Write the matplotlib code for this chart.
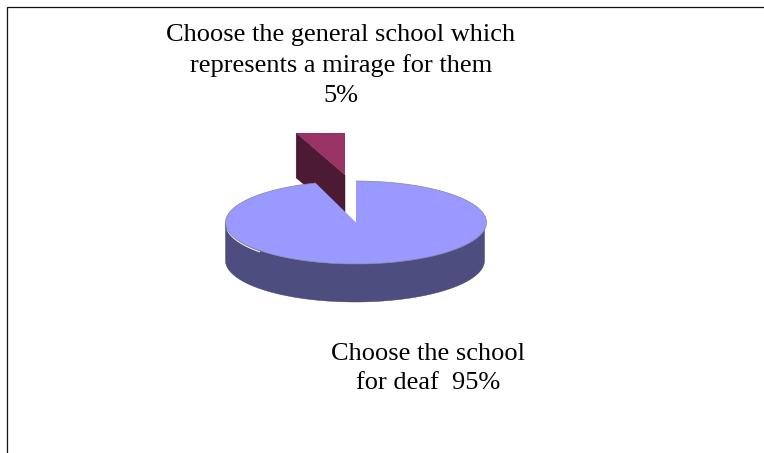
import numpy as np
import matplotlib
matplotlib.use("Agg")
import matplotlib.pyplot as plt
from matplotlib.patches import Polygon

# Data
categories = ["Choose the school\nfor deaf  95%",
              "Choose the general school which\nrepresents a mirage for them\n5%"]
values = [95, 5]

COL_TOP = "#9999FF"
COL_SIDE = "#4D4D80"
COL_SLICE = "#993366"
COL_WALL = "#4D1A33"

plt.rcParams["font.family"] = ["Liberation Serif", "DejaVu Serif"]
fig = plt.figure(figsize=(7.64, 4.53), dpi=100)
ax = fig.add_axes([0, 0, 1, 1])
ax.set_xlim(0, 764)
ax.set_ylim(453, 0)
ax.axis("off")

# Frame: only top and left edges are visible
ax.plot([7, 7, 764], [453, 6.7, 6.7], color="#111111", lw=0.9,
        solid_joinstyle="miter", zorder=1)

cx, cy, rx, ry, depth = 356, 222.5, 130.5, 41.5, 38
fractions = np.array(values, dtype=float) / sum(values)
sweep = fractions * 360.0


def ell(ang, x0, y0, a, b):
    t = np.radians(ang)
    return x0 + a * np.cos(t), y0 - b * np.sin(t)


# Main slice runs clockwise from 12 o'clock
a_start, a_end = 90, 90 - sweep[0]
# Side wall: visible front half of the rim
t_front = np.linspace(180, 360, 120)
xf, yf = ell(t_front, cx - 1, cy, rx - 1, ry)
side = np.vstack([np.column_stack([xf, yf]),
                  np.column_stack([xf[::-1], yf[::-1] + depth])])
ax.add_patch(Polygon(side, closed=True, fc=COL_SIDE, ec="#3d3d68", lw=0.3, zorder=2))

# Exploded small slice: centre displaced, wall first, then its top
ex, ey = 345, 175
erx, ery = 158, 44.2
ang_small = 90 + sweep[1]
lx, ly = ell(ang_small, ex, ey, erx, ery)
wall = [(ex, ey), (lx, ly), (lx, ly + 45), (lx + 6, ly + 50), (ex, ey + depth)]
ax.add_patch(Polygon(wall, closed=True, fc=COL_WALL, ec="#3a1426", lw=0.3, zorder=3))
ts = np.linspace(90, ang_small, 12)
sx, sy = ell(ts, ex, ey, erx, ery)
sy = np.maximum(sy, 133)
top_small = np.vstack([[ex, ey], np.column_stack([sx, sy])])
ax.add_patch(Polygon(top_small, closed=True, fc=COL_SLICE, ec="none", zorder=4))

# Top face of the large slice
t_main = np.linspace(a_start, a_end, 300)
mx, my = ell(t_main, cx, cy, rx, ry)
top_main = np.vstack([[cx, cy], np.column_stack([mx, my])])
ax.add_patch(Polygon(top_main, closed=True, fc=COL_TOP, ec="none", zorder=5))
# Soft grey rim
ax.plot(mx, my, color="#8585a8", lw=0.5, zorder=6)
# White sliver at the left front
t_w = np.linspace(188, 222, 40)
wx, wy = ell(t_w, cx, cy + 1.4, rx - 0.5, ry)
ax.plot(wx, wy, color="#f0f0f0", lw=0.9, zorder=4.5)

# Labels
ax.text(428, 368.5, categories[0], ha="center", va="center", fontsize=19,
        linespacing=1.45, color="black", zorder=7)
ax.text(341, 65.5, categories[1], ha="center", va="center", fontsize=19,
        linespacing=1.45, color="black", zorder=7)

fig.savefig("out.png", dpi=100)
